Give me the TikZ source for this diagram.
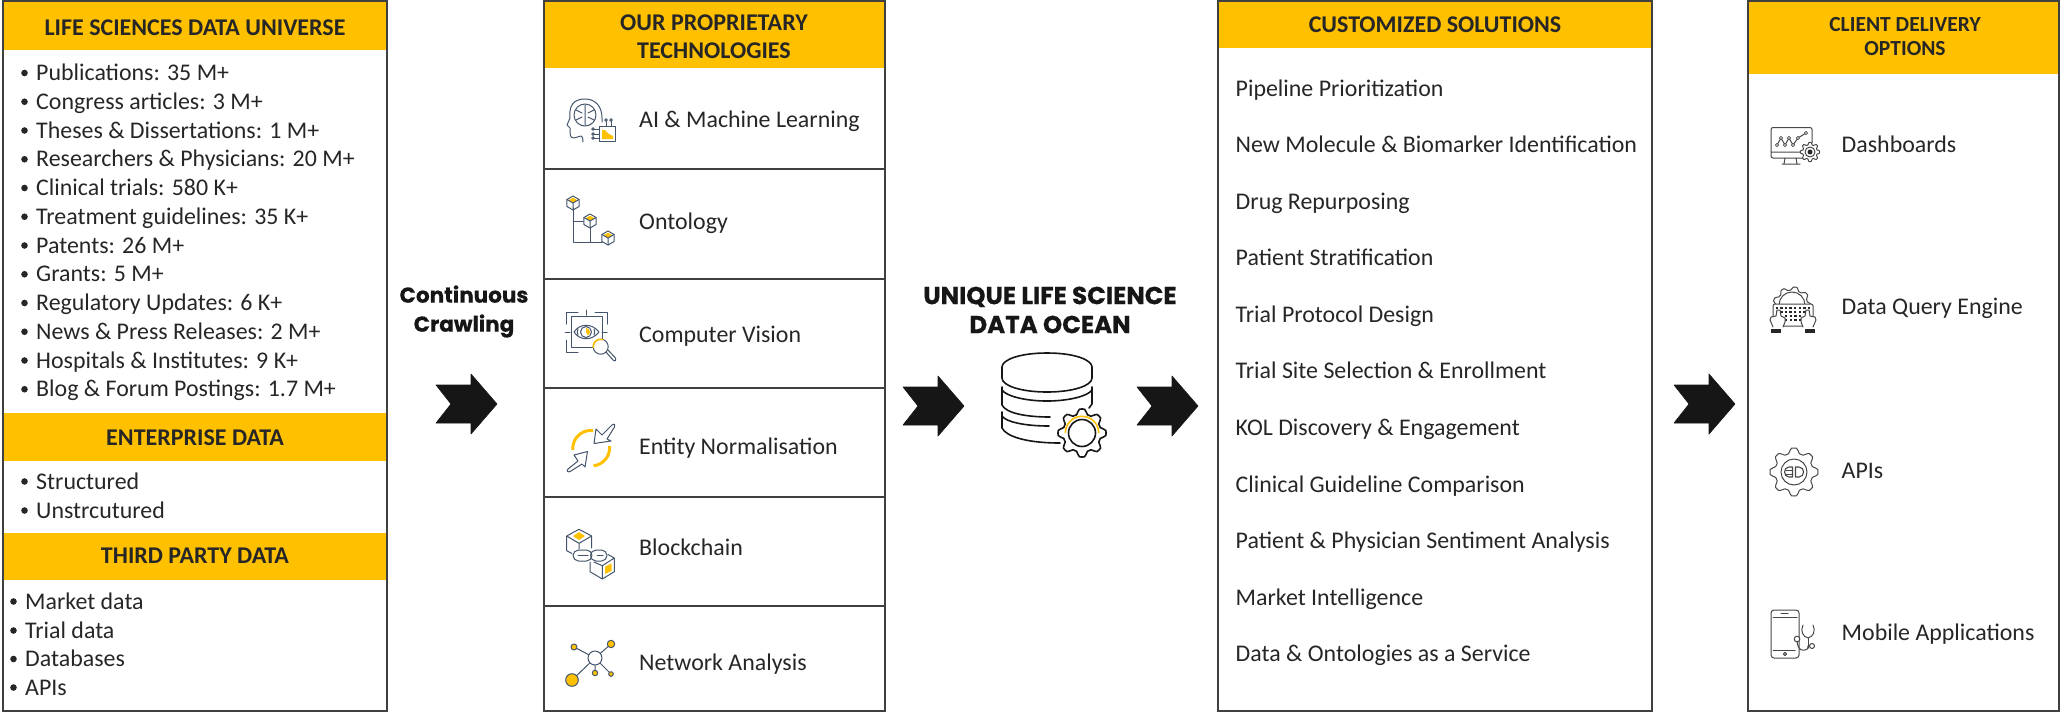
\documentclass[tikz,border=0pt]{standalone}
\usepackage{fontspec}
\setmainfont{Carlito}
\newfontfamily\headfont{Poppins}[BoldFeatures={FakeBold=.5}]
\definecolor{amber}{HTML}{FFC000}
\definecolor{edge}{HTML}{404040}
\definecolor{ink}{HTML}{262626}
\definecolor{slateline}{HTML}{44546A}
\definecolor{blk}{HTML}{161616}
\tikzset{
  panel/.style={draw=edge,line width=2pt},
  band/.style={fill=amber,draw=none},
  rowline/.style={draw=edge,line width=1.5pt},
  lbl/.style={anchor=base west,font=\fontsize{23.9}{26}\selectfont,text=ink,inner sep=0pt},
  hd/.style={anchor=center,align=center,font=\fontsize{24}{28}\selectfont\bfseries,text=ink,inner sep=0pt},
  big/.style={anchor=center,align=center,font=\fontsize{21.5}{29}\headfont\bfseries,text=blk,inner sep=0pt},
  chevron/.style={fill=blk,draw=blk,line width=.6pt,line join=round},
  ic/.style={draw=slateline,line width=1pt,line join=round,line cap=round},
  icg/.style={draw=ink!85,line width=1pt,line join=round,line cap=round},
  db/.style={draw=blk,line width=1.6pt,line cap=round,line join=round},
}
\newcommand{\chev}[3]{\draw[chevron] (#2,#3) -- ++(-26,-30) -- ++(0,11) -- ++(-35,0) -- ++(15,19) -- ++(-15,19) -- ++(35,0) -- ++(0,11) -- cycle;
  \coordinate (#1) at (#2,#3);}
\newcommand{\cube}[3]{%
  \fill[amber] (#1,#2-#3*.75) -- ++(#3*.62,#3*.35) -- ++(-#3*.62,#3*.35) -- ++(-#3*.62,-#3*.35) -- cycle;
  \draw[ic] (#1,#2-#3) -- ++(.866*#3,.5*#3) -- ++(0,#3) -- ++(-.866*#3,.5*#3) -- ++(-.866*#3,-.5*#3) -- ++(0,-#3) -- cycle;
  \draw[ic] (#1-.866*#3,#2-.5*#3) -- (#1,#2) -- (#1+.866*#3,#2-.5*#3) (#1,#2) -- (#1,#2+#3);}
\newcommand{\gearp}[7]{% style, cx, cy, base r, amp, teeth, fill
  \draw[#1,fill=#7] plot[smooth cycle,tension=.4,samples=#6*8,domain=0:360-360/(#6*8)] ({#2+(#4+#5*max(-1,min(1,1.8*cos(#6*\x))))*cos(\x)},{#3+(#4+#5*max(-1,min(1,1.8*cos(#6*\x))))*sin(\x)});}
\begin{document}
\begin{tikzpicture}[x=1pt,y=-1pt]
\useasboundingbox (0,0) rectangle (2061,713);
% panel 1
\fill[band] (3,1) rectangle (387,50);
\fill[band] (3,413) rectangle (387,461);
\fill[band] (3,533) rectangle (387,580);
\node[hd] (h1) at (195,28) {LIFE SCIENCES DATA UNIVERSE};
\node[hd] (h1b) at (195,437.5) {ENTERPRISE DATA};
\node[hd] (h1c) at (195,556) {THIRD PARTY DATA};
\draw[panel] (3,1) rectangle (387,711);
\foreach \t [count=\i from 0] in {Publications: 35 M+,Congress articles: 3 M+,Theses \& Dissertations: 1 M+,Researchers \& Physicians: 20 M+,Clinical trials: 580 K+,Treatment guidelines: 35 K+,Patents: 26 M+,Grants: 5 M+,Regulatory Updates: 6 K+,News \& Press Releases: 2 M+,Hospitals \& Institutes: 9 K+,Blog \& Forum Postings: 1.7 M+}{
  \node[lbl] (a\i) at (36,80.5+28.75*\i) {\t};
  \fill[ink] (24.5,73+28.75*\i) circle (3.3);
}
\foreach \t/\y [count=\i] in {Structured/481,Unstrcutured/510}{
  \node[lbl] (b\i) at (36,\y+8) {\t};
  \fill[ink] (24.5,\y+.5) circle (3.3);
}
\foreach \t/\y [count=\i] in {Market data/601,Trial data/630,Databases/658.5,APIs/687}{
  \node[lbl] (c\i) at (25,\y+8) {\t};
  \fill[ink] (13.5,\y+.5) circle (3.3);
}
% panel 2
\fill[band] (544,1) rectangle (885,68);
\node[hd] (h2) at (714,37) {OUR PROPRIETARY\\TECHNOLOGIES};
\draw[panel] (544,1) rectangle (885,711);
\foreach \y in {169,279,388,497,606} \draw[rowline] (544,\y) -- (885,\y);
\foreach \t/\y [count=\i] in {AI \& Machine Learning/119.5,Ontology/221,Computer Vision/334,Entity Normalisation/446,Blockchain/547,Network Analysis/662}{
  \node[lbl] (t\i) at (639,\y+8) {\t};
}
% AI icon
\draw[ic] (583,142) .. controls (583,136) and (581,136) .. (581,136) -- (574,138) .. controls (570,138) and (570,134) .. (570,132) -- (570,128) -- (567,125) -- (570,118) .. controls (568,100) and (580,99) .. (585,99) .. controls (596,99) and (602,107) .. (602,118) -- (602,122);
\draw[ic] (585,115) circle (11);
\draw[ic] (585,105) -- (585,125) (576,110) -- (582,113) (594,110) -- (588,113) (576,120) -- (582,117) (594,120) -- (588,117);
\draw[ic] (599,126) rectangle (615,141);
\fill[amber] (602,130) -- (602,139) -- (613,139) -- (613,136) .. controls (608,134) and (606,132) .. (605,130) -- cycle;
\draw[ic] (606,126) -- (606,121) (611,126) -- (611,121) (599,129) -- (594,129) (599,134) -- (594,134) (599,138) -- (594,138);
\foreach \p in {(606,120),(611,120),(593,129),(593,134),(593,138)} \draw[ic,fill=white] \p circle (1.3);
% Ontology
\draw[ic] (573,208) -- (573,242) -- (602,242) (573,221) -- (583,221) (590,227) -- (590,242);
\cube{573}{203}{7}\cube{590}{221}{7}\cube{608}{238}{7}
% CV
\draw[ic] (566,324) -- (566,312) -- (578,312) (595,312) -- (607,312) -- (607,324) (566,340) -- (566,352) -- (578,352);
\draw[ic] (586,310) -- (586,315) (565,332) -- (570,332) (602,332) -- (607,332) (586,347) -- (589,347);
\draw[ic] (571,316) rectangle (602,347);
\draw[ic] (574,332) .. controls (580,323) and (592,323) .. (599,332) .. controls (592,341) and (580,341) .. (574,332) -- cycle;
\draw[ic] (586,332) circle (5.5);
\draw[ic] (578,329) .. controls (577,331) and (577,333) .. (578,335) (594,329) .. controls (595,331) and (595,333) .. (594,335);
\fill[amber] (586,328) arc (-90:60:4) -- (586,332) -- cycle;
\draw[ic,fill=white] (600.7,346.7) circle (7.5);
\draw[amber,line width=1.6pt] (593.3,348) arc (170:290:7.5);
\draw[ic] (606,352) -- (613,360) .. controls (615,362) and (617,360) .. (615.5,358) -- (608,350);
% Entity
\draw[amber,line width=3pt] (593,430.5) arc (-83:-185:18);
\draw[amber,line width=3pt] (609.5,446) arc (-6:84:18);
\draw[ic] (594,443.5) -- (596,429) -- (602,435) -- (612,425) .. controls (614,423) and (616,425) .. (614.5,427) -- (607,439) -- (611,441) -- cycle;
\draw[ic] (587.5,451.5) -- (574,455) -- (578,461) -- (568,469) .. controls (566,471) and (568,473) .. (571,471) -- (582,464) -- (585,467) -- cycle;
% Blockchain
\fill[amber] (579,532) -- (585,536) -- (579,540) -- (573,536) -- cycle;
\draw[ic] (579,529.3) -- (591.7,536) -- (591.7,548) (579,529.3) -- (566.7,536) -- (566.7,550.7) -- (572,553.5) (566.7,536) -- (579,543.3) -- (591.7,536) (579,543.3) -- (579,549);
\draw[ic] (596,550) -- (601.5,550) arc (-90:90:5.5) -- (596,561) arc (90:270:5.5);
\draw[ic] (578.5,550) -- (586.5,550) arc (-90:90:5.5) -- (578.5,561) arc (90:270:5.5);
\draw[ic] (578,555.5) -- (588,555.5) (597,555.5) -- (603,555.5);
\draw[ic] (590,562) -- (590,571.7) -- (602.3,579) -- (614.3,571.7) -- (614.3,558) -- (608,554.5) (602.3,565.7) -- (614.3,558) (602.3,565.7) -- (602.3,579) (594,562) -- (602.3,565.7);
\fill[amber] (605,566.7) -- (611.7,563.3) -- (611.7,570.7) -- (605,574) -- cycle;
% Network
\draw[ic] (574,647) -- (595,658) (611,644) -- (595,658) (572,680) -- (595,658) (595,673) -- (595,658) (611,674) -- (595,658);
\draw[ic,fill=white] (595,658) circle (7);
\foreach \x/\y/\r in {574/647/3,611/644/3.7,572/680/6.3,595/673/2.7,611/674/2.3}
  \draw[ic,fill=amber] (\x,\y) circle (\r);
% panel 3
\fill[band] (1218,1) rectangle (1652,48);
\node[hd] (h3) at (1435,25) {CUSTOMIZED SOLUTIONS};
\draw[panel] (1218,1) rectangle (1652,711);
\foreach \t/\y [count=\i] in {Pipeline Prioritization/88,New Molecule \& Biomarker Identification/144.6,Drug Repurposing/201,Patient Stratification/257.6,Trial Protocol Design/314,Trial Site Selection \& Enrollment/370.6,KOL Discovery \& Engagement/427,Clinical Guideline Comparison/484,Patient \& Physician Sentiment Analysis/540,Market Intelligence/597,Data \& Ontologies as a Service/653}{
  \node[lbl] (s\i) at (1235.5,\y+8) {\t};
}
% panel 4
\fill[band] (1748,1) rectangle (2059,74);
\node[hd,font=\fontsize{21.5}{24}\selectfont\bfseries] (h4) at (1905,36.5) {CLIENT DELIVERY\\OPTIONS};
\draw[panel] (1748,1) rectangle (2059,711);
\foreach \t/\y [count=\i] in {Dashboards/144.6,Data Query Engine/306,APIs/470.5,Mobile Applications/632}{
  \node[lbl] (d\i) at (1841.5,\y+8) {\t};
}
% Dashboard icon
\draw[icg,rounded corners=2pt] (1812,143) -- (1812,127.5) -- (1771,127.5) -- (1771,158) -- (1802,158);
\draw[icg] (1771,152) -- (1801,152) (1785,158) -- (1784,164) (1796,158) -- (1797,164) (1782,164) -- (1800,164);
\draw[icg] (1777,145) -- (1781,138) -- (1785,145) -- (1789,138) -- (1793,145) -- (1798,138) -- (1806,133);
\foreach \x/\y in {1777/145,1781/138,1785/145,1789/138,1793/145,1798/138,1806/133} \draw[icg,fill=white,line width=.8pt] (\x,\y) circle (1.6);
\gearp{icg}{1810}{152}{8.5}{1.2}{8}{white}
\draw[icg] (1810,152) circle (5);
\fill[ink] (1810,152) circle (2.5);
% Query icon
\gearp{icg}{1792}{306}{17.5}{1.6}{9}{white}
\draw[icg] (1779,305) arc (180:360:13);
\draw[icg,fill=white,rounded corners=2pt] (1773,304) rectangle (1813,326);
\foreach \i in {0,...,7} \foreach \j in {0,1} \fill[ink] (1775.5+\i*4.6,307+\j*4) rectangle ++(2.4,2.4);
\foreach \i in {0,...,3} \foreach \j in {2,3} \fill[ink] (1785+\i*4.6,307+\j*4) rectangle ++(2.4,2.4);
\draw[icg,fill=white] (1773,327) -- (1770,320) -- (1771,317) -- (1776,316) -- (1777,310) -- (1780,310) -- (1781,316) -- (1785,318) -- (1785,322) -- (1783,327);
\draw[icg,fill=white] (1813,327) -- (1816,320) -- (1815,317) -- (1810,316) -- (1809,310) -- (1806,310) -- (1805,316) -- (1801,318) -- (1801,322) -- (1803,327);
\fill[ink] (1771,329) rectangle (1781,333);
\fill[ink] (1805,329) rectangle (1815,333);
% API icon
\gearp{icg}{1794}{472}{21.5}{2.5}{8}{white}
\draw[icg] (1794,472) circle (13);
\draw[icg,line width=1.1pt] (1792.5,467) -- (1792.5,477) -- (1789,477) .. controls (1783,477) and (1783,467) .. (1789,467) -- cycle (1795.5,467) -- (1795.5,477) -- (1799,477) .. controls (1805,477) and (1805,467) .. (1799,467) -- cycle;
\draw[icg] (1786,470) -- (1792.5,470) (1786,474) -- (1792.5,474);
% Mobile icon
\draw[icg,rounded corners=3pt] (1771,610) rectangle (1799,658);
\draw[icg] (1773,617) -- (1797,617) (1781,613) -- (1788,613) (1773,650) -- (1795,650);
\draw[icg] (1785,654) circle (1.6);
\draw[icg] (1803,625) .. controls (1800,631) and (1803,637) .. (1808,638) .. controls (1813,637) and (1816,631) .. (1813,625);
\draw[icg] (1808,638) -- (1808,648);
\draw[icg] (1797,641) .. controls (1798,652) and (1803,650) .. (1805,650) .. controls (1808,650) and (1808,648) .. (1808,646);
\draw[icg,fill=white] (1797,639) circle (2.8);
\draw[icg] (1808,646) -- (1810,646);
\draw[icg,fill=white] (1812,646) circle (2.5);
% centre texts
\node[big] (cc) at (464,311.5) {Continuous\\Crawling};
\node[big,font=\fontsize{24.5}{29}\headfont\bfseries] (ocean) at (1050,310) {UNIQUE LIFE SCIENCE\\DATA OCEAN};
% chevrons
\chev{ar1}{497}{404}
\chev{ar2}{964}{406}
\chev{ar3}{1198}{406}
\chev{ar4}{1735}{404}
% database
\draw[db] (1047,353) .. controls (1075,353) and (1092,360) .. (1092,367) -- (1092,378) .. controls (1092,386) and (1072,392) .. (1047,392) .. controls (1022,392) and (1002,386) .. (1002,378) -- (1002,367) .. controls (1002,360) and (1019,353) .. (1047,353) -- cycle;
\draw[db] (1002,387) -- (1002,390) .. controls (1006,396) and (1025,401) .. (1047,401) .. controls (1069,401) and (1088,396) .. (1092,390) -- (1092,387);
\draw[db] (1002,390) -- (1002,405) .. controls (1006,413) and (1025,417) .. (1050,417);
\draw[db] (1092,390) -- (1092,404) -- (1089,408);
\draw[db] (1002,412) -- (1002,428) .. controls (1006,436) and (1025,443) .. (1060,443);
\draw[db] (1002,416) .. controls (1006,422) and (1025,426) .. (1049,426);
\gearp{db}{1082}{433}{21.5}{2.5}{8}{white}
\draw[db] (1082,433) circle (13.5);
\draw[amber,line width=1.6pt] (1065.3,433) arc (180:360:16.7);
\end{tikzpicture}
\end{document}
